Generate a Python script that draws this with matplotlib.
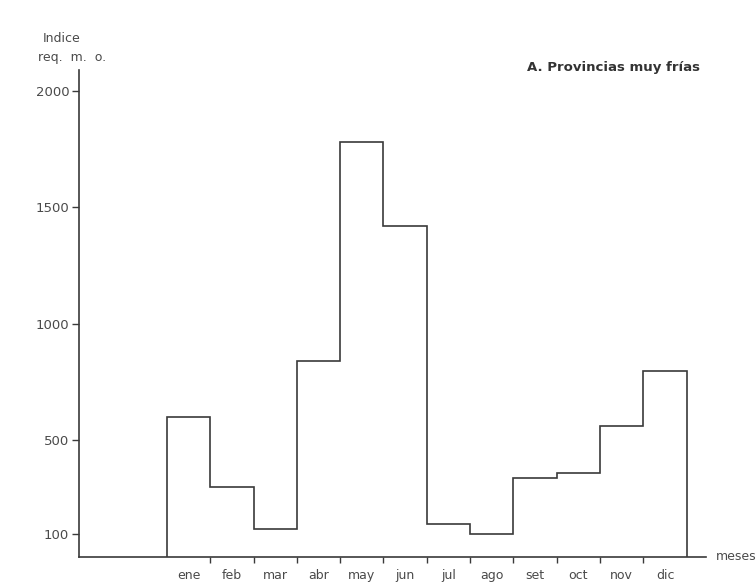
#!/usr/bin/env python3
# coding: utf-8

import numpy as np
import matplotlib
matplotlib.use("Agg")
import matplotlib.pyplot as plt

# Indice de requerimiento de mano de obra por mes
months = ["ene", "feb", "mar", "abr", "may", "jun",
          "jul", "ago", "set", "oct", "nov", "dic"]
index_values = [600, 300, 120, 840, 1780, 1420,
                140, 100, 340, 360, 560, 800]
y_ticks = [100, 500, 1000, 1500, 2000]

line_color = "#3a3a3a"
text_color = "#4a4a4a"

plt.rcParams['font.family'] = ['DejaVu Sans']

fig = plt.figure(figsize=(7.56, 5.82), dpi=100)
ax = fig.add_axes([0.1045, 0.043, 0.829, 0.837])

edges = np.arange(len(months) + 1)
ax.stairs(index_values, edges, baseline=0, color=line_color, linewidth=1.2)

ax.set_xlim(-2.03, 12.44)
ax.set_ylim(0, 2090)

# y axis
ax.set_yticks(y_ticks)
ax.set_yticklabels([str(v) for v in y_ticks])
ax.tick_params(axis='y', direction='out', length=5, width=1.0,
               colors=line_color, labelcolor=text_color, labelsize=9.5, pad=2)

# x axis: ticks between months, labels centred on months
ax.set_xticks(edges[1:-1])
ax.set_xticklabels([])
ax.set_xticks(edges[:-1] + 0.5, minor=True)
ax.set_xticklabels(months, minor=True)
ax.tick_params(axis='x', which='major', direction='out', length=4, width=1.0,
               colors=line_color)
ax.tick_params(axis='x', which='minor', length=0, labelcolor=text_color,
               labelsize=9, pad=9)

for side in ['top', 'right']:
    ax.spines[side].set_visible(False)
for side in ['left', 'bottom']:
    ax.spines[side].set_color(line_color)
    ax.spines[side].set_linewidth(1.2)

# axis titles
fig.text(62 / 756, 1 - 38 / 582, "Indice", ha='center', va='center',
         fontsize=9, color=text_color)
fig.text(72 / 756, 1 - 57 / 582, "req.  m.  o.", ha='center', va='center',
         fontsize=9, color=text_color)
ax.text(1.016, 0.0, "meses", transform=ax.transAxes, ha='left', va='center',
        fontsize=9, color=text_color, clip_on=False)

# panel title
fig.text(700 / 756, 1 - 68 / 582, "A. Provincias muy frías", ha='right',
         va='center', fontsize=9.5, fontweight='bold', color="#333333")

fig.savefig("out.png", dpi=100)
